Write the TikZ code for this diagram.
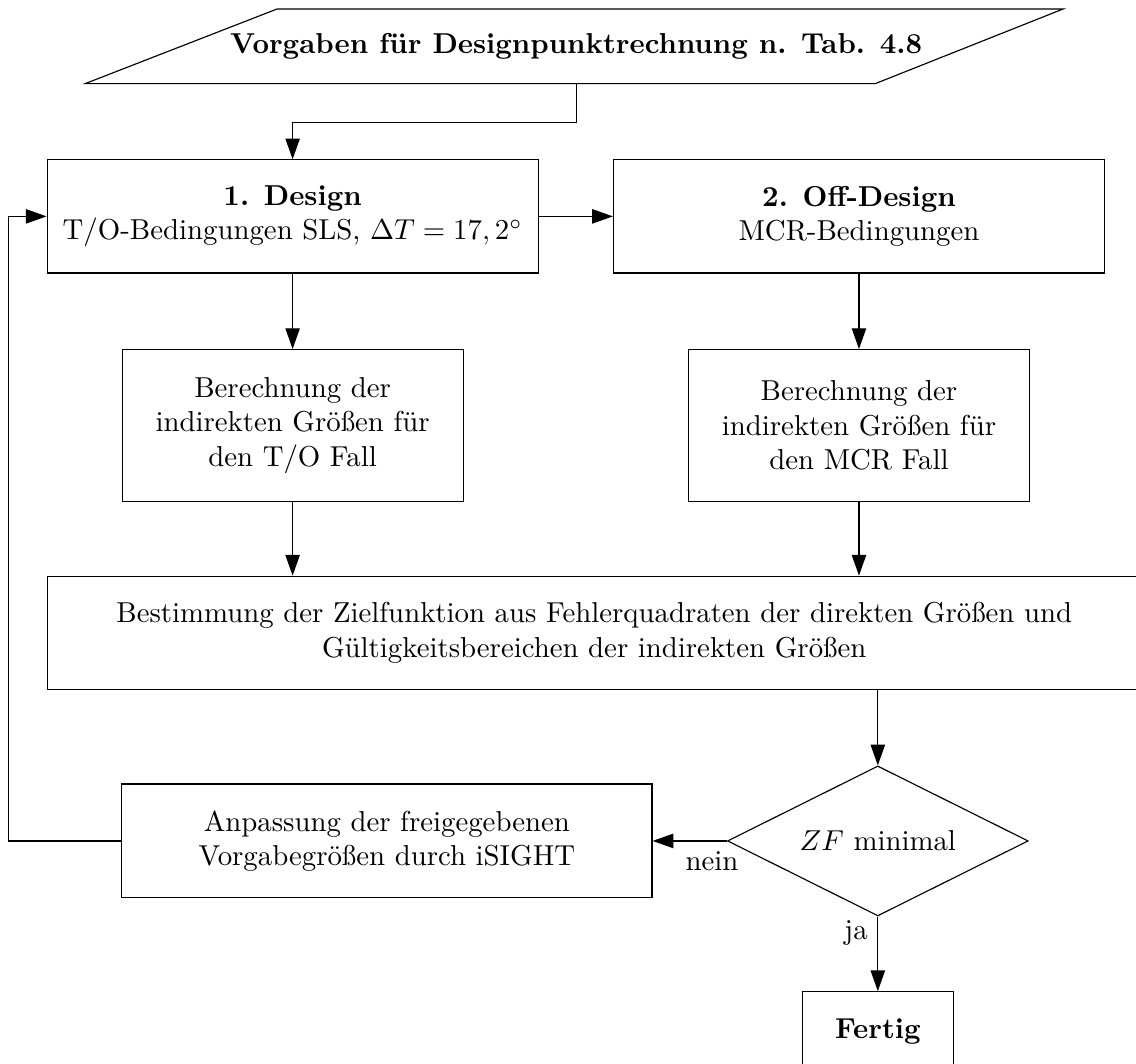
\documentclass[tikz,border=0pt]{standalone}
\usepackage{amsmath}
\usepackage{amssymb}
\usepackage{tikz}
\usetikzlibrary{arrows.meta, shapes.geometric}

\begin{document}
\begin{tikzpicture}[
  >={Triangle[length=7.2pt,width=5pt]},
  blockbox/.style={draw,align=center,inner sep=0pt},
  entscheid/.style={draw,diamond,aspect=2,inner sep=0pt,minimum width=3.67cm,minimum height=1.83cm}
]
\useasboundingbox (0,0) rectangle (13.86,-12.97);

\coordinate (ul) at (1.04,-1.02);
\coordinate (ol) at (3.38,-0.11);
\coordinate (or) at (12.97,-0.11);
\coordinate (ur) at (10.68,-1.02);
\draw (ul) -- (ol) -- (or) -- (ur) -- cycle;
\node (vorgaben) at (7.03,-0.57) {\textbf{Vorgaben für Designpunktrechnung n. Tab. 4.8}};
\coordinate (vorgs) at (7.03,-1.02);
\coordinate (knick) at (7.03,-1.49);

\node[blockbox,minimum width=5.99cm,minimum height=1.38cm] (design) at (3.57,-2.64) {\textbf{1. Design}\\T/O-Bedingungen SLS, $\Delta T = 17,2^\circ$};
\node[blockbox,minimum width=5.99cm,minimum height=1.38cm] (offdesign) at (10.48,-2.64) {\textbf{2. Off-Design}\\MCR-Bedingungen};
\node[blockbox,minimum width=4.16cm,minimum height=1.85cm] (berTO) at (3.57,-5.19) {Berechnung der\\indirekten Größen für\\den T/O Fall};
\node[blockbox,minimum width=4.16cm,minimum height=1.85cm] (berMCR) at (10.48,-5.19) {Berechnung der\\indirekten Größen für\\den MCR Fall};
\node[blockbox,minimum width=13.35cm,minimum height=1.38cm] (zielfkt) at (7.25,-7.72) {Bestimmung der Zielfunktion aus Fehlerquadraten der direkten Größen und\\Gültigkeitsbereichen der indirekten Größen};
\node[entscheid] (zf) at (10.71,-10.26) {$ZF$ minimal};
\node[blockbox,minimum width=6.47cm,minimum height=1.39cm] (anpassung) at (4.72,-10.26) {Anpassung der freigegebenen\\Vorgabegrößen durch iSIGHT};
\node[blockbox,minimum width=1.84cm,minimum height=0.98cm] (fertig) at (10.71,-12.59) {\textbf{Fertig}};
\coordinate (rueck) at (0.1,-10.26);

\draw[->] (vorgs) -- (knick) -| (design);
\draw[->] (design) -- (offdesign);
\draw[->] (design) -- (berTO);
\draw[->] (offdesign) -- (berMCR);
\draw[->] (berTO) -- (berTO |- zielfkt.north);
\draw[->] (berMCR) -- (berMCR |- zielfkt.north);
\draw[->] (zielfkt.south -| zf) -- (zf);
\draw[->] (zf) -- node[below,pos=0.2]{nein} (anpassung);
\draw[->] (zf) -- node[left,pos=0.22]{ja} (fertig);
\draw[->] (anpassung) -- (rueck) |- (design);
\end{tikzpicture}
\end{document}
